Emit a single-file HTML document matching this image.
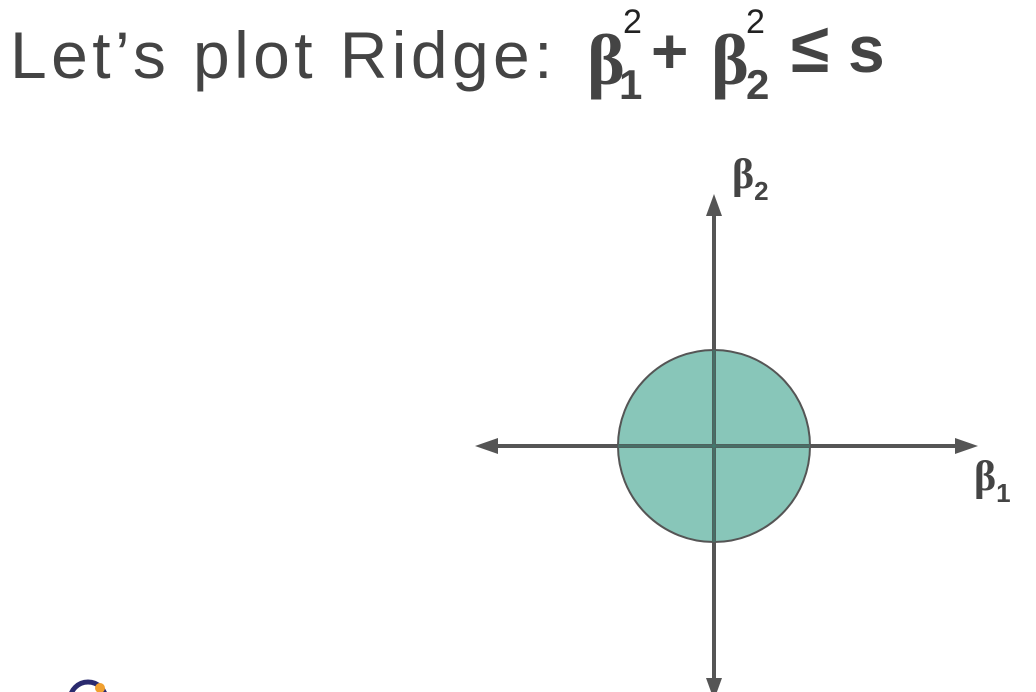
<!DOCTYPE html>
<html><head><meta charset="utf-8"><style>
body{margin:0;width:1036px;height:692px;overflow:hidden;background:#fff;position:relative;font-family:"Liberation Sans",sans-serif}
.t{position:absolute;color:#444;white-space:nowrap;line-height:1}
#title{left:10px;top:22px;font-size:66px;letter-spacing:4.4px}
.b{font-family:"Liberation Serif",serif;font-weight:bold;font-size:72px}
.sup{font-size:34px;color:#222}
.sub{font-size:42px;font-weight:bold}
</style></head><body>
<div id="title" class="t">Let’s plot Ridge:</div>
<div class="t b" style="left:587px;top:24px">β</div>
<div class="t sup" style="left:623px;top:5px">2</div>
<div class="t sub" style="left:619px;top:64px">1</div>
<div class="t" style="left:651px;top:19px;font-size:64px;font-weight:bold">+</div>
<div class="t b" style="left:711px;top:24px">β</div>
<div class="t sup" style="left:746px;top:5px">2</div>
<div class="t sub" style="left:746px;top:64px">2</div>
<div class="t" style="left:791px;top:13px;font-size:70px;font-weight:bold">≤</div>
<div class="t" style="left:848px;top:16px;font-size:66px;font-weight:bold">s</div>
<svg width="1036" height="692" style="position:absolute;left:0;top:0">
<script>
const centerX=[0], centerY=[0], radius=[1];
</script>
<circle cx="714" cy="446" r="96" fill="#88c6b9" stroke="#555" stroke-width="2"/>
<g stroke="#555" stroke-width="4">
<line x1="490" y1="446" x2="960" y2="446"/>
<line x1="714" y1="210" x2="714" y2="680"/>
</g>
<g fill="#555">
<polygon points="475,446 498,438 498,454"/>
<polygon points="978,446 955,438 955,454"/>
<polygon points="714,194 706,216 722,216"/>
<polygon points="714,700 706,678 722,678"/>
</g>
<line x1="714" y1="350" x2="714" y2="542" stroke="#3e7f72" stroke-width="3" opacity="0.6"/>
<line x1="618" y1="446" x2="810" y2="446" stroke="#3e7f72" stroke-width="3" opacity="0.6"/>
<text x="732" y="188" font-family="Liberation Serif" font-weight="bold" font-size="42" fill="#444">β<tspan font-family="Liberation Sans" font-weight="bold" font-size="26" dy="12">2</tspan></text>
<text x="974" y="490" font-family="Liberation Serif" font-weight="bold" font-size="42" fill="#444">β<tspan font-family="Liberation Sans" font-weight="bold" font-size="26" dy="12">1</tspan></text>
<g>
<circle cx="88" cy="700" r="18" fill="none" stroke="#2a2a6e" stroke-width="5"/>
<circle cx="100" cy="688" r="5" fill="#f0a030"/>
</g>
</svg>
</body></html>
